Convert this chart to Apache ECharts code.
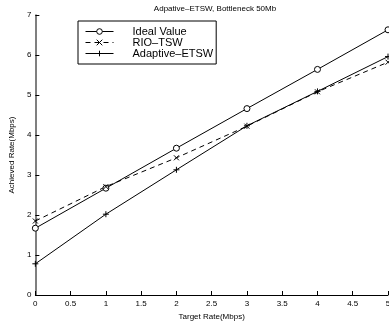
<!DOCTYPE html>
<html>
<head>
<meta charset="utf-8">
<script src="https://cdn.jsdelivr.net/npm/echarts@6/dist/echarts.min.js"></script>
<style>
  html, body { margin: 0; padding: 0; background: #fff; overflow: hidden; }
  #chart { width: 400px; height: 326px; }
</style>
</head>
<body>
<div id="chart"></div>
<script>
  // values
  const targetRates = [0, 1, 2, 3, 4, 5];
  const idealValue = [1.67, 2.67, 3.67, 4.66, 5.64, 6.63];
  const rioTsw = [1.85, 2.71, 3.43, 4.22, 5.08, 5.82];
  const adaptiveEtsw = [0.78, 2.02, 3.13, 4.23, 5.09, 5.96];
  const xTicks = ['0', '0.5', '1', '1.5', '2', '2.5', '3', '3.5', '4', '4.5', '5'];

  const font = 'Liberation Sans, Arial, sans-serif';
  const crossPath = 'path://M0,0L10,10M10,0L0,10';
  const plusPath = 'path://M5,0L5,10M0,5L10,5';

  const pairs = (ys) => targetRates.map((x, i) => [x, ys[i]]);

  const chart = echarts.init(document.getElementById('chart'));

  chart.setOption({
    animation: false,
    title: {
      text: 'Adpative\u2013ETSW, Bottleneck 50Mb',
      left: 210, top: 0, textAlign: 'center',
      textStyle: { fontFamily: font, fontSize: 8, fontWeight: 'normal', color: '#000' }
    },
    grid: { left: 32, right: 12, top: 15, bottom: 30 },
    legend: {
      orient: 'vertical',
      left: 78, top: 21,
      padding: [5, 3, 5, 7],
      itemGap: 0,
      itemWidth: 28,
      itemHeight: 7,
      borderColor: '#000', borderWidth: 1,
      backgroundColor: '#fff',
      lineStyle: { width: 1 },
      itemStyle: { borderWidth: 1 },
      textStyle: {
        fontFamily: font, fontSize: 11, color: '#000',
        lineHeight: 10.5, padding: [0, 0, 0, 14]
      },
      data: ['Ideal Value', 'RIO\u2013TSW', 'Adaptive\u2013ETSW']
    },
    xAxis: {
      type: 'value',
      min: 0, max: 5, interval: 0.5,
      name: 'Target Rate(Mbps)',
      nameLocation: 'middle', nameGap: 18,
      nameTextStyle: { fontFamily: font, fontSize: 8, color: '#000' },
      axisLine: { lineStyle: { color: '#000', width: 1 } },
      axisTick: { inside: true, length: 4, lineStyle: { color: '#000' } },
      axisLabel: {
        fontFamily: font, fontSize: 8, color: '#000', margin: 5,
        formatter: (v) => xTicks[Math.round(v * 2)]
      },
      splitLine: { show: false }
    },
    yAxis: {
      type: 'value',
      min: 0, max: 7, interval: 1,
      name: 'Achieved Rate(Mbps)',
      nameLocation: 'middle', nameGap: 12,
      nameTextStyle: { fontFamily: font, fontSize: 8, color: '#000' },
      axisLine: { lineStyle: { color: '#555', width: 1.5 } },
      axisTick: { inside: true, length: 4, lineStyle: { color: '#000' } },
      axisLabel: { fontFamily: font, fontSize: 8, color: '#000', margin: 4 },
      splitLine: { show: false }
    },
    series: [
      {
        name: 'Ideal Value', type: 'line', data: pairs(idealValue),
        symbol: 'circle', symbolSize: 6, showAllSymbol: true,
        lineStyle: { color: '#000', width: 1 },
        itemStyle: { color: '#fff', borderColor: '#000', borderWidth: 1 }
      },
      {
        name: 'RIO\u2013TSW', type: 'line', data: pairs(rioTsw),
        symbol: crossPath, symbolSize: 5,
        lineStyle: { color: '#000', width: 1, type: [5, 4] },
        itemStyle: { color: 'none', borderColor: '#000', borderWidth: 1 }
      },
      {
        name: 'Adaptive\u2013ETSW', type: 'line', data: pairs(adaptiveEtsw),
        symbol: plusPath, symbolSize: 6,
        lineStyle: { color: '#000', width: 1 },
        itemStyle: { color: 'none', borderColor: '#000', borderWidth: 1 }
      }
    ]
  });
</script>
</body>
</html>
